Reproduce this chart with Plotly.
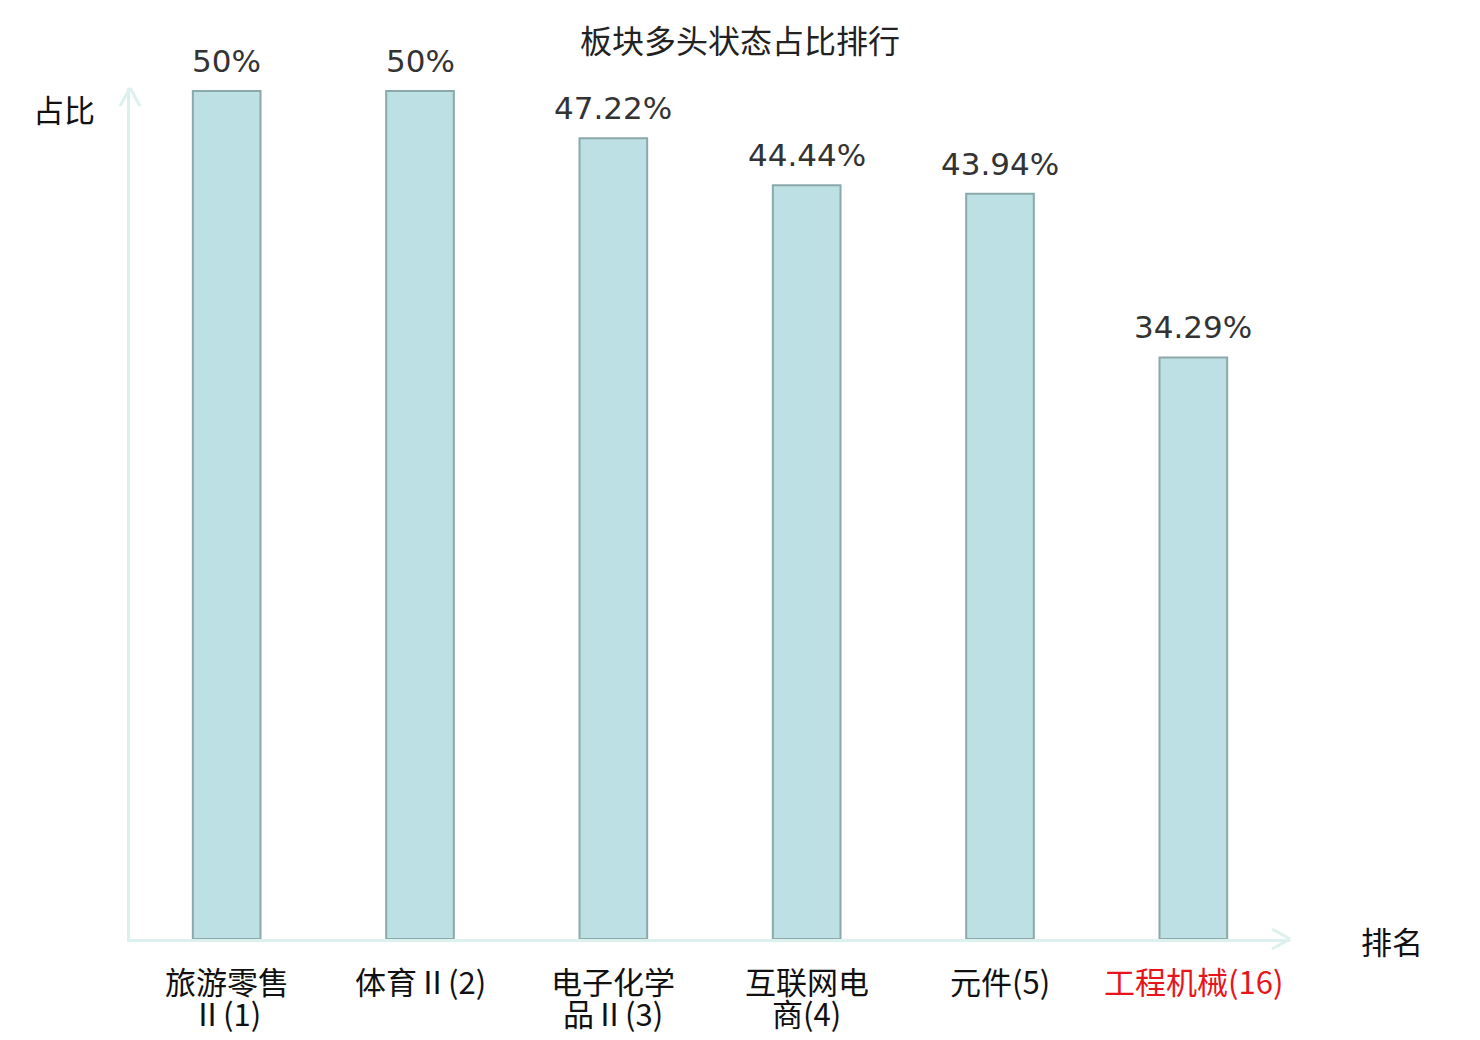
import plotly.graph_objects as go

# data
labels_line1 = ["旅游零售", "体育Ⅱ(2)", "电子化学", "互联网电", "元件(5)", "工程机械(16)"]
labels_line2 = ["Ⅱ(1)", "", "品Ⅱ(3)", "商(4)", "", ""]
label_colors = ["#111111", "#111111", "#111111", "#111111", "#111111", "#e8141c"]
ratios = [50, 50, 47.22, 44.44, 43.94, 34.29]
value_labels = ["50%", "50%", "47.22%", "44.44%", "43.94%", "34.29%"]

axis_color = "#dcf1ee"
cjk = "Noto Sans CJK SC"
xs = list(range(len(ratios)))

fig = go.Figure(go.Bar(
    x=xs,
    y=ratios,
    width=0.35,
    marker=dict(color="#bce0e3", line=dict(color="#8ba8aa", width=2)),
    hoverinfo="skip",
))

# page body adds an 8px offset, the margins below account for it
W, H = 1160.0, 851.0
arrow_line = dict(color=axis_color, width=3)
shapes = [
    dict(type="line", xref="paper", yref="paper", x0=0, y0=1, x1=-10 / W, y1=1 - 18 / H, line=arrow_line),
    dict(type="line", xref="paper", yref="paper", x0=0, y0=1, x1=10 / W, y1=1 - 18 / H, line=arrow_line),
    dict(type="line", xref="paper", yref="paper", x0=1, y0=0, x1=1 - 18 / W, y1=10 / H, line=arrow_line),
    dict(type="line", xref="paper", yref="paper", x0=1, y0=0, x1=1 - 18 / W, y1=-10 / H, line=arrow_line),
]

annotations = []
# value labels above the bars
for x, v, t in zip(xs, ratios, value_labels):
    annotations.append(dict(x=x, y=v, xref="x", yref="y", text=t, showarrow=False,
                            yanchor="bottom", yshift=10,
                            font=dict(family="DejaVu Sans", size=31, color="#333333")))
# category labels (two lines, tighter spacing than <br> gives)
for x, a, b, c in zip(xs, labels_line1, labels_line2, label_colors):
    annotations.append(dict(x=x, y=0, xref="x", yref="paper", text=a, showarrow=False,
                            yanchor="middle", yshift=-41,
                            font=dict(family=cjk, size=31, color=c)))
    if b:
        annotations.append(dict(x=x, y=0, xref="x", yref="paper", text=b, showarrow=False,
                                yanchor="middle", yshift=-73,
                                font=dict(family=cjk, size=31, color=c)))

annotations += [
    dict(text="占比", xref="paper", yref="paper", x=-0.057, y=0.976, xanchor="center", yanchor="middle",
         showarrow=False, font=dict(family=cjk, size=31, color="#111111")),
    dict(text="排名", xref="paper", yref="paper", x=1.088, y=-0.002, xanchor="center", yanchor="middle",
         showarrow=False, font=dict(family=cjk, size=31, color="#111111")),
]

fig.update_layout(
    width=1480,
    height=1040,
    margin=dict(l=122, r=198, t=80, b=109),
    paper_bgcolor="white",
    plot_bgcolor="white",
    showlegend=False,
    title=dict(text="板块多头状态占比排行", x=(740 - 8) / 1480, xanchor="center",
               xref="container", y=1 - (42 - 8) / 1040, yref="container", yanchor="middle",
               font=dict(family=cjk, size=32, color="#222222")),
    xaxis=dict(
        range=[-0.5, 5.5],
        showticklabels=False,
        showgrid=False, zeroline=False,
        showline=True, linecolor=axis_color, linewidth=3,
        ticks="",
    ),
    yaxis=dict(
        range=[0, 50.18],
        showticklabels=False, showgrid=False, zeroline=False,
        showline=True, linecolor=axis_color, linewidth=3, ticks="",
    ),
    shapes=shapes,
    annotations=annotations,
)

fig.write_html("out.html")
